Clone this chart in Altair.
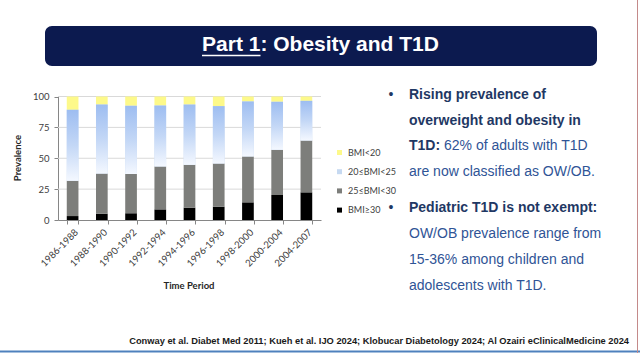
import altair as alt
import pandas as pd

# ---------------- data ----------------
periods = ["1986-1988", "1988-1990", "1990-1992", "1992-1994", "1994-1996",
           "1996-1998", "1998-2000", "2000-2004", "2004-2007"]
bmi_ge30 = [3.2, 5.1, 5.4, 8.6, 10.0, 10.8, 14.3, 20.2, 22.4]
bmi_25_30 = [28.6, 32.6, 31.8, 34.8, 34.7, 35.0, 37.2, 36.7, 42.0]
bmi_20_25 = [57.4, 55.8, 55.3, 49.3, 48.8, 46.4, 44.5, 38.8, 32.1]
bmi_lt20 = [10.8, 6.5, 7.5, 7.3, 6.5, 7.8, 4.0, 4.3, 3.5]
series_names = ["BMI<20", "20≤BMI<25", "25≤BMI<30", "BMI≥30"]
series_colors = ["#fdf98a", "#c6d9f1", "#7d7e7b", "#000000"]
y_ticks = [0, 25, 50, 75, 100]
grid_vals = [25, 50, 75, 100]

title_a = "Part 1"
title_b = ": Obesity and T1D"
bullet1 = [("Rising prevalence of", ""), ("overweight and obesity in", ""),
           ("T1D:", "62% of adults with T1D"), ("", "are now classified as OW/OB.")]
bullet2 = [("Pediatric T1D is not exempt:", ""), ("", "OW/OB prevalence range from"),
           ("", "15-36% among children and"), ("", "adolescents with T1D.")]
footnote = ("Conway et al. Diabet Med 2011; Kueh et al. IJO 2024; "
            "Klobucar Diabetology 2024; Al Ozairi eClinicalMedicine 2024")
x_title = "Time Period"
y_title = "Prevalence"

# ---------------- table ----------------
rows = []
stack_order = [("BMI≥30", bmi_ge30), ("25≤BMI<30", bmi_25_30),
               ("20≤BMI<25", bmi_20_25), ("BMI<20", bmi_lt20)]
for i, p in enumerate(periods):
    lo = 0.0
    for name, vals in stack_order:
        rows.append({"period": p, "series": name, "lo": lo, "hi": lo + vals[i]})
        lo += vals[i]
df = pd.DataFrame(rows)

FONT = "Lato"
xscale = alt.Scale(domain=periods, range=[58, 321], paddingInner=0.6, paddingOuter=0.3)
yscale = alt.Scale(domain=[0, 100], range=[220, 96.5], nice=False, zero=True)

xaxis = alt.Axis(title=None, offset=-133, labelAngle=-45, labelAlign="right",
                 labelBaseline="top", labelFont=FONT, labelFontSize=9.6,
                 labelColor="#404040", tickBand="extent", tickSize=4,
                 tickColor="#868686", domainColor="#868686", labelPadding=3, grid=False)
yaxis = alt.Axis(title=None, values=y_ticks, offset=-58, grid=False, tickSize=4,
                 tickColor="#868686", domainColor="#868686", labelFont=FONT,
                 labelFontSize=9.5, labelColor="#404040", labelPadding=5)

grid = alt.Chart(pd.DataFrame({"v": grid_vals})).mark_rule(
    color="#d9d9d9", strokeWidth=1
).encode(y=alt.Y("v:Q", scale=yscale, axis=yaxis), x=alt.value(58), x2=alt.value(321))

bars = alt.Chart(df).mark_bar().encode(
    x=alt.X("period:N", scale=xscale, sort=periods, axis=xaxis),
    y=alt.Y("lo:Q", scale=yscale, axis=yaxis),
    y2="hi:Q",
    color=alt.Color("series:N",
                    scale=alt.Scale(domain=series_names, range=series_colors),
                    legend=alt.Legend(title=None, orient="none", legendX=335, legendY=148,
                                      symbolType="square", symbolSize=25, symbolStrokeWidth=0,
                                      labelFont=FONT, labelFontSize=9, labelColor="#404040",
                                      rowPadding=9.2, labelOffset=4, padding=0)),
)

blue_grad = alt.LinearGradient(
    gradient="linear",
    stops=[alt.GradientStop(color="#9dbdf1", offset=0),
           alt.GradientStop(color="#c3d7f6", offset=0.5),
           alt.GradientStop(color="#f4f8ff", offset=1)],
    x1=0, x2=0, y1=0, y2=1)

blue = alt.Chart(df).transform_filter(alt.datum.series == "20≤BMI<25").mark_bar(
    color=blue_grad
).encode(x=alt.X("period:N", scale=xscale, sort=periods, axis=xaxis),
         y=alt.Y("lo:Q", scale=yscale, axis=yaxis), y2="hi:Q")


def text_layer(s, x, y, size, color, weight="normal", font="Liberation Sans",
               align="left", angle=0):
    return alt.Chart(pd.DataFrame({"t": [s]})).mark_text(
        align=align, baseline="middle", fontSize=size, font=font, fontWeight=weight,
        color=color, angle=angle
    ).encode(text="t:N", x=alt.value(x), y=alt.value(y))


def rule_layer(x, x2, y, y2, color, width):
    return alt.Chart(pd.DataFrame({"a": [0]})).mark_rule(color=color, strokeWidth=width).encode(
        x=alt.value(x), x2=alt.value(x2), y=alt.value(y), y2=alt.value(y2))


banner = alt.Chart(pd.DataFrame({"a": [0]})).mark_rect(
    color="#0c1a4f", cornerRadius=7
).encode(x=alt.value(45), x2=alt.value(597), y=alt.value(26), y2=alt.value(66))

layers = [grid, bars, blue, banner]

# title
layers.append(text_layer(title_a + title_b, 320.5, 45, 21, "white", weight="bold", align="center"))
layers.append(rule_layer(202, 260.5, 55.5, 55.5, "white", 1.5))

# axis titles
layers.append(text_layer(y_title, 18, 158, 9.5, "#262626", weight="bold", font=FONT,
                         align="center", angle=270))
layers.append(text_layer(x_title, 189, 286, 9.5, "#262626", weight="bold", font=FONT,
                         align="center"))

# bullets
BOLD_C = "#1f3864"
REG_C = "#2f5496"
ys1 = [95, 120.5, 146, 171.5]
ys2 = [208, 234, 260, 285.5]
for lines, ys in [(bullet1, ys1), (bullet2, ys2)]:
    layers.append(text_layer("•", 391, ys[0], 14, BOLD_C, align="center"))
    for (b, r), yy in zip(lines, ys):
        if b:
            layers.append(text_layer(b, 409, yy, 14, BOLD_C, weight="bold"))
        if r:
            xr = 444 if b else 409
            layers.append(text_layer(r, xr, yy, 14, REG_C))

# footnote
layers.append(text_layer(footnote, 629, 341, 9.3, "#1a1a1a", weight="bold",
                         font="Liberation Sans", align="right"))

# frame lines
layers.append(rule_layer(0, 640, 351.5, 351.5, "#4f81bd", 2))
layers.append(rule_layer(637.5, 637.5, 0, 353, "#c48a8a", 1))

chart = alt.layer(*layers).properties(
    width=640, height=353, autosize="none", padding=0, background="white"
).configure_view(stroke=None)

chart.save("out.html", embed_options={"renderer": "svg", "actions": False})
